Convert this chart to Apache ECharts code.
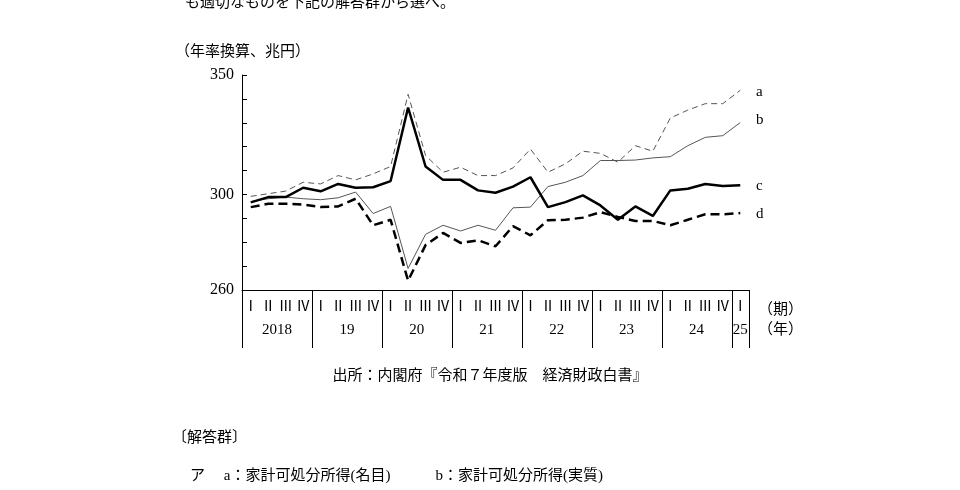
<!DOCTYPE html>
<html><head><meta charset="utf-8">
<script src="https://cdn.jsdelivr.net/npm/echarts@6/dist/echarts.min.js"></script>
<style>html,body{margin:0;background:#fff}#c{width:960px;height:490px}</style>
</head><body><div id="c"></div>
<script>
const quarters=['Ⅰ','Ⅱ','Ⅲ','Ⅳ'];
const years=['2018','19','20','21','22','23','24','25'];
const categories=[];for(let y=0;y<7;y++)for(let q=0;q<4;q++)categories.push(years[y]+'-'+q);categories.push('25-0');
const seriesA=[299.2,300.3,301.4,305.1,304.4,307.9,306.1,308.6,311.7,341.9,316.3,309.3,311.4,307.9,307.9,311.1,319,309.3,312.8,318.1,317.2,313.5,320.4,318.1,332,335.3,338,338,343.6];
const seriesB=[297,298.2,298.9,298.2,297.8,298.6,301,292,295,269,283.3,287.1,284.7,287.1,285,294.4,294.7,303.3,305.1,307.9,314.2,314.2,314.4,315.3,315.8,320.4,323.9,324.6,330.1];
const seriesC=[296.7,298.9,298.9,302.8,301.3,304.4,302.8,303,305.6,336.4,311.7,306.1,306.1,301.7,300.7,303.3,307.2,294.7,296.8,299.6,295.4,289.4,295,291,301.7,302.4,304.4,303.5,303.9];
const seriesD=[294.7,296.1,296.1,295.8,294.7,295,298.2,287.1,289.4,263.9,278.8,283.9,279.7,280.8,278.3,286.7,282.9,289.2,289.4,290.3,292.6,290.6,288.9,288.9,287.1,289.4,291.7,291.7,292.2];
const yLabels=[260,300,350];
const seriesNames=['a','b','c','d'];
const F="'Liberation Serif','Noto Sans CJK JP',serif";
const chart=echarts.init(document.getElementById('c'));
const ls=(w,c,t)=>({width:w,color:c,type:t});
chart.setOption({
  animation:false,
  grid:{left:242,top:75,width:507,height:215},
  xAxis:{type:'category',data:categories,boundaryGap:true,
    axisLine:{lineStyle:{color:'#000'}},
    axisTick:{show:false},
    axisLabel:{interval:0,margin:10,color:'#000',fontFamily:F,fontSize:14,formatter:(v)=>quarters[+v.split('-')[1]]}},
  yAxis:{type:'value',min:260,max:350,interval:10,
    axisLine:{show:true,lineStyle:{color:'#000'}},
    axisTick:{show:true,inside:true,length:5,lineStyle:{color:'#000'}},
    splitLine:{show:false},
    axisLabel:{color:'#000',fontFamily:F,fontSize:16,margin:8,formatter:(v)=>yLabels.includes(v)?String(v):''}},
  series:[
    {name:'a',type:'line',data:seriesA,symbol:'none',lineStyle:ls(1,'#555',[6,4])},
    {name:'b',type:'line',data:seriesB,symbol:'none',lineStyle:ls(1,'#555','solid')},
    {name:'c',type:'line',data:seriesC,symbol:'none',lineStyle:ls(2.5,'#000','solid')},
    {name:'d',type:'line',data:seriesD,symbol:'none',lineStyle:ls(2.5,'#000',[9,5])}
  ]
});
const g=[];
const T=(x,y,t,o)=>g.push(Object.assign({type:'text',x,y,style:{text:t,fill:'#000',font:'15px '+F,textVerticalAlign:'middle'}},o||{}));
T(185,3,'も適切なものを下記の解答群から選べ。');
T(175,52,'（年率換算、兆円）');
const last=[seriesA,seriesB,seriesC,seriesD];
last.forEach((s,k)=>{const p=chart.convertToPixel({seriesIndex:k},[28,s[28]]);T(756,k==0?p[1]+2:k==1?p[1]-2:p[1]+1,seriesNames[k]);});
const cx=(i)=>chart.convertToPixel({xAxisIndex:0},categories[i]);
const half=(cx(1)-cx(0))/2;
for(let y=0;y<8;y++){
  const i0=y*4,i1=Math.min(y*4+3,28);
  const x=(cx(i0)+cx(i1))/2;
  g.push({type:'text',x:x,y:330,style:{text:years[y],fill:'#000',font:'15px '+F,textAlign:'center',textVerticalAlign:'middle'}});
  const bx=Math.round(cx(i0)-half)+0.5;
  g.push({type:'line',shape:{x1:bx,y1:290,x2:bx,y2:348},style:{stroke:'#000',lineWidth:1}});
}
const xr=Math.round(cx(28)+half)+0.5;
g.push({type:'line',shape:{x1:xr,y1:290,x2:xr,y2:348},style:{stroke:'#000',lineWidth:1}});
T(758,310,'（期）');T(758,330,'（年）');
g.push({type:'text',x:490,y:376,style:{text:'出所：内閣府『令和７年度版　経済財政白書』',fill:'#000',font:'15px '+F,textAlign:'center',textVerticalAlign:'middle'}});
T(172,438,'〔解答群〕');
T(190,476,'ア　 a：家計可処分所得(名目)　　　b：家計可処分所得(実質)');
chart.setOption({graphic:g});
</script></body></html>
